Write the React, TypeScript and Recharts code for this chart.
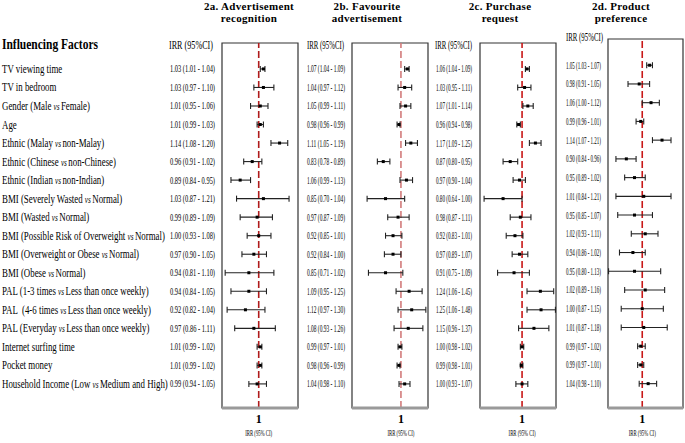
import { ScatterChart, Scatter, XAxis, YAxis, ErrorBar, ReferenceLine, ReferenceArea } from "recharts";

const serif = "Liberation Serif";

const factors = [
  "TV viewing time",
  "TV in bedroom",
  "Gender (Male vs Female)",
  "Age",
  "Ethnic (Malay vs non-Malay)",
  "Ethnic (Chinese vs non-Chinese)",
  "Ethnic (Indian vs non-Indian)",
  "BMI (Severely Wasted vs Normal)",
  "BMI (Wasted vs Normal)",
  "BMI (Possible Risk of Overweight vs Normal)",
  "BMI (Overweight or Obese vs Normal)",
  "BMI (Obese vs Normal)",
  "PAL (1-3 times vs Less than once weekly)",
  "PAL  (4-6 times vs Less than once weekly)",
  "PAL (Everyday vs Less than once weekly)",
  "Internet surfing time",
  "Pocket money",
  "Household Income (Low vs Medium and High)",
];

// 2a. Advertisement recognition
const adIrr = [1.03, 1.03, 1.01, 1.01, 1.14, 0.96, 0.89, 1.03, 0.99, 1.0, 0.97, 0.94, 0.94, 0.92, 0.97, 1.01, 1.01, 0.99];
const adLow = [1.01, 0.97, 0.95, 0.99, 1.08, 0.91, 0.84, 0.87, 0.89, 0.93, 0.9, 0.81, 0.84, 0.82, 0.86, 0.99, 0.99, 0.94];
const adHigh = [1.04, 1.1, 1.06, 1.03, 1.2, 1.02, 0.95, 1.21, 1.09, 1.08, 1.05, 1.1, 1.05, 1.04, 1.11, 1.02, 1.02, 1.05];

// 2b. Favourite advertisement
const favIrr = [1.07, 1.04, 1.05, 0.98, 1.11, 0.83, 1.06, 0.85, 0.97, 0.92, 0.92, 0.85, 1.09, 1.12, 1.08, 0.99, 0.98, 1.04];
const favLow = [1.04, 0.97, 0.99, 0.96, 1.05, 0.78, 0.99, 0.7, 0.87, 0.85, 0.84, 0.71, 0.95, 0.97, 0.93, 0.97, 0.96, 0.98];
const favHigh = [1.09, 1.12, 1.11, 0.99, 1.19, 0.89, 1.13, 1.04, 1.09, 1.01, 1.0, 1.02, 1.25, 1.3, 1.26, 1.01, 0.99, 1.1];

// 2c. Purchase request
const purIrr = [1.06, 1.03, 1.07, 0.96, 1.17, 0.87, 0.97, 0.8, 0.98, 0.92, 0.97, 0.91, 1.24, 1.25, 1.15, 1.0, 0.99, 1.0];
const purLow = [1.04, 0.95, 1.01, 0.94, 1.09, 0.8, 0.9, 0.64, 0.87, 0.83, 0.89, 0.75, 1.06, 1.06, 0.96, 0.98, 0.98, 0.93];
const purHigh = [1.09, 1.11, 1.14, 0.98, 1.25, 0.95, 1.04, 1.0, 1.11, 1.01, 1.07, 1.09, 1.45, 1.48, 1.37, 1.02, 1.01, 1.07];

// 2d. Product preference
const prefIrr = [1.05, 0.98, 1.06, 0.99, 1.14, 0.9, 0.95, 1.01, 0.95, 1.02, 0.94, 0.95, 1.02, 1.0, 1.01, 0.99, 0.99, 1.04];
const prefLow = [1.03, 0.91, 1.0, 0.96, 1.07, 0.84, 0.89, 0.84, 0.85, 0.93, 0.86, 0.8, 0.89, 0.87, 0.87, 0.97, 0.97, 0.98];
const prefHigh = [1.07, 1.05, 1.12, 1.01, 1.21, 0.96, 1.02, 1.21, 1.07, 1.11, 1.02, 1.13, 1.16, 1.15, 1.18, 1.02, 1.01, 1.1];

const rows = factors.map((_, i) => i + 1);
const yDomain = [-0.4, 19.3];

const fmt = (v) => v.toFixed(2);

const FactorLabel = ({ y, text }) => {
  const parts = text.split(" vs ");
  return (
    <g transform={`translate(2,${y + 4}) scale(0.72,1)`}>
      <text x={0} y={0} fontSize={12.3} fontFamily={serif} fill="#000" xmlSpace="preserve">
        {parts[0]}
        {parts.length > 1 && (
          <>
            <tspan fontStyle="italic" fontSize={10} dx={3}>vs</tspan>
            <tspan dx={2}>{parts[1]}</tspan>
          </>
        )}
      </text>
    </g>
  );
};

function Panel({ left, width, yWidth, top, domain, irr, low, high, refColor, textX, textLen, showFactors }) {
  const data = irr.map((v, i) => ({ row: i + 1, irr: v, err: [v - low[i], high[i] - v] }));

  const yTick = ({ y, payload }) => {
    const i = payload.value - 1;
    return (
      <g>
        {showFactors && <FactorLabel y={y} text={factors[i]} />}
        <text x={textX} y={y + 3.5} fontSize={10} fontFamily={serif} fill="#000" textLength={textLen} lengthAdjust="spacingAndGlyphs">
          {`${fmt(irr[i])} (${fmt(low[i])} - ${fmt(high[i])})`}
        </text>
      </g>
    );
  };

  const xTick = ({ x }) => (
    <g>
      <text x={x} y={423} textAnchor="middle" fontSize={12} fontWeight="bold" fontFamily={serif} fill="#000">1</text>
      <text x={x} y={436} textAnchor="middle" fontSize={8} fontFamily={serif} fill="#000" textLength={27} lengthAdjust="spacingAndGlyphs">
        IRR (95% CI)
      </text>
    </g>
  );

  return (
    <div style={{ position: "absolute", left, top: 0 }}>
      <ScatterChart width={width} height={443} margin={{ top, right: 2, bottom: 0, left: 0 }}>
        <XAxis
          type="number"
          dataKey="irr"
          scale="log"
          domain={domain}
          allowDataOverflow
          ticks={[1]}
          tick={xTick}
          tickLine={false}
          axisLine={{ stroke: "#9a9a9a", strokeWidth: 3 }}
          height={35}
        />
        <YAxis
          type="number"
          dataKey="row"
          domain={yDomain}
          reversed
          allowDataOverflow
          ticks={rows}
          interval={0}
          tick={yTick}
          tickLine={false}
          axisLine={false}
          width={yWidth}
        />
        <ReferenceArea x1={domain[0]} x2={domain[1]} y1={yDomain[0]} y2={yDomain[1]} fill="none" stroke="#333" strokeWidth={1.2} />
        <ReferenceLine x={1} stroke={refColor} strokeDasharray="7 3" strokeWidth={1.6} />
        <Scatter
          data={data}
          isAnimationActive={false}
          shape={(p) => <rect x={p.cx - 1.5} y={p.cy - 1.5} width={3} height={3} fill="#000" />}
        >
          <ErrorBar dataKey="err" direction="x" width={3} stroke="#222" strokeWidth={1.1} />
        </Scatter>
      </ScatterChart>
    </div>
  );
}

const titles = [
  { x: 249, lines: ["2a. Advertisement", "recognition"] },
  { x: 367, lines: ["2b. Favourite", "advertisement"] },
  { x: 500, lines: ["2c. Purchase", "request"] },
  { x: 621, lines: ["2d. Product", "preference"] },
];

const headers = [
  { x: 169, y: 49 },
  { x: 307, y: 49 },
  { x: 435, y: 49 },
  { x: 566, y: 41 },
];

export default function App() {
  return (
    <div style={{ position: "absolute", left: 0, top: 0, width: 685, height: 443, background: "#fff", overflow: "hidden", fontFamily: serif }}>
      <Panel left={0} width={300} yWidth={222} top={43} domain={[0.794, 1.28]} irr={adIrr} low={adLow} high={adHigh}
        refColor="#b01c1c" textX={170} textLen={45} showFactors />
      <Panel left={300} width={130} yWidth={52} top={43} domain={[0.597, 1.33]} irr={favIrr} low={favLow} high={favHigh}
        refColor="#d27b7b" textX={7} textLen={38} />
      <Panel left={430} width={128} yWidth={50} top={43} domain={[0.61, 1.49]} irr={purIrr} low={purLow} high={purHigh}
        refColor="#c81818" textX={6} textLen={36} />
      <Panel left={558} width={127} yWidth={50} top={39} domain={[0.797, 1.31]} irr={prefIrr} low={prefLow} high={prefHigh}
        refColor="#c81818" textX={8} textLen={35} />
      <svg width={685} height={443} style={{ position: "absolute", left: 0, top: 0, pointerEvents: "none" }}>
        <text x={2} y={49} fontSize={15.5} fontWeight="bold" fontFamily={serif} fill="#000" textLength={96} lengthAdjust="spacingAndGlyphs">
          Influencing Factors
        </text>
        {headers.map((h, i) => (
          <text key={i} x={h.x} y={h.y} fontSize={12} fontFamily={serif} fill="#000" textLength={i === 0 ? 44 : 37} lengthAdjust="spacingAndGlyphs">
            IRR (95%CI)
          </text>
        ))}
        {titles.map((t, i) => (
          <g key={i}>
            {t.lines.map((l, j) => (
              <text key={j} x={t.x} y={10 + j * 12} textAnchor="middle" fontSize={11} fontWeight="bold" fontFamily={serif} fill="#000" letterSpacing={0.3}>
                {l}
              </text>
            ))}
          </g>
        ))}
      </svg>
    </div>
  );
}
